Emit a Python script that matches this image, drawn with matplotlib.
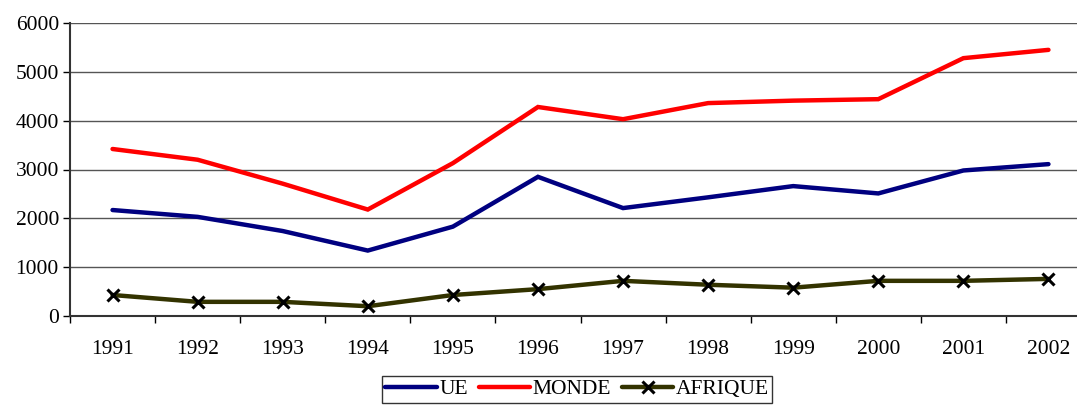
import matplotlib.pyplot as plt
import numpy as np

plt.rcParams['font.family'] = ['Liberation Serif', 'DejaVu Serif']

annees = ['1991', '1992', '1993', '1994', '1995', '1996', '1997', '1998', '1999', '2000', '2001', '2002']
ue = [2170, 2030, 1740, 1340, 1830, 2850, 2210, 2430, 2660, 2510, 2980, 3110]
monde = [3420, 3200, 2710, 2180, 3130, 4280, 4030, 4360, 4410, 4440, 5280, 5450]
afrique = [430, 290, 290, 200, 430, 550, 720, 640, 580, 720, 720, 760]

my_dpi = 100
fig = plt.figure(figsize=(1077/my_dpi, 405/my_dpi), dpi=my_dpi)
ax = fig.add_axes([70/1077, 1-316/405, 1021/1077, 293/405])

x = np.arange(len(annees))
l1, = ax.plot(x, ue, color='#000080', linewidth=3.2, solid_capstyle='round', solid_joinstyle='miter')
l2, = ax.plot(x, monde, color='#ff0000', linewidth=3.2, solid_capstyle='round', solid_joinstyle='miter')
l3, = ax.plot(x, afrique, color='#333300', linewidth=3.2, marker='x', markersize=8,
              markeredgecolor='black', markeredgewidth=2.2, solid_capstyle='round')

fs = 15.5
ax.set_xlim(-0.5, len(annees) - 0.5)
ax.set_ylim(0, 6000)
ax.set_yticks(range(0, 6001, 1000))
ax.set_xticks(x)
ax.set_xticklabels(annees)
ax.set_xticks(np.arange(-0.5, len(annees), 1), minor=True)
ax.tick_params(axis='x', which='major', length=0, pad=17, labelsize=fs)
ax.tick_params(axis='x', which='minor', length=5, width=1, color='black')
ax.tick_params(axis='y', length=5, width=1, labelsize=fs, pad=3)
ax.grid(axis='y', color='#555555', linewidth=1)
ax.set_axisbelow(True)
for s in ['top', 'right']:
    ax.spines[s].set_visible(False)
ax.spines['left'].set_color('#333333')
ax.spines['left'].set_linewidth(1.5)
ax.spines['bottom'].set_color('#333333')
ax.spines['bottom'].set_linewidth(1.5)

leg = fig.legend([l1, l2, l3], ['UE', 'MONDE', 'AFRIQUE'], loc='upper center',
                 bbox_to_anchor=(577/1077, 1-376/405), ncol=3, frameon=True, fancybox=False,
                 edgecolor='black', fontsize=fs, handlelength=2.4, handletextpad=0.1,
                 columnspacing=0.5, borderpad=0.15, borderaxespad=0)
leg.get_frame().set_linewidth(1)

plt.savefig('out.png', dpi=my_dpi)
